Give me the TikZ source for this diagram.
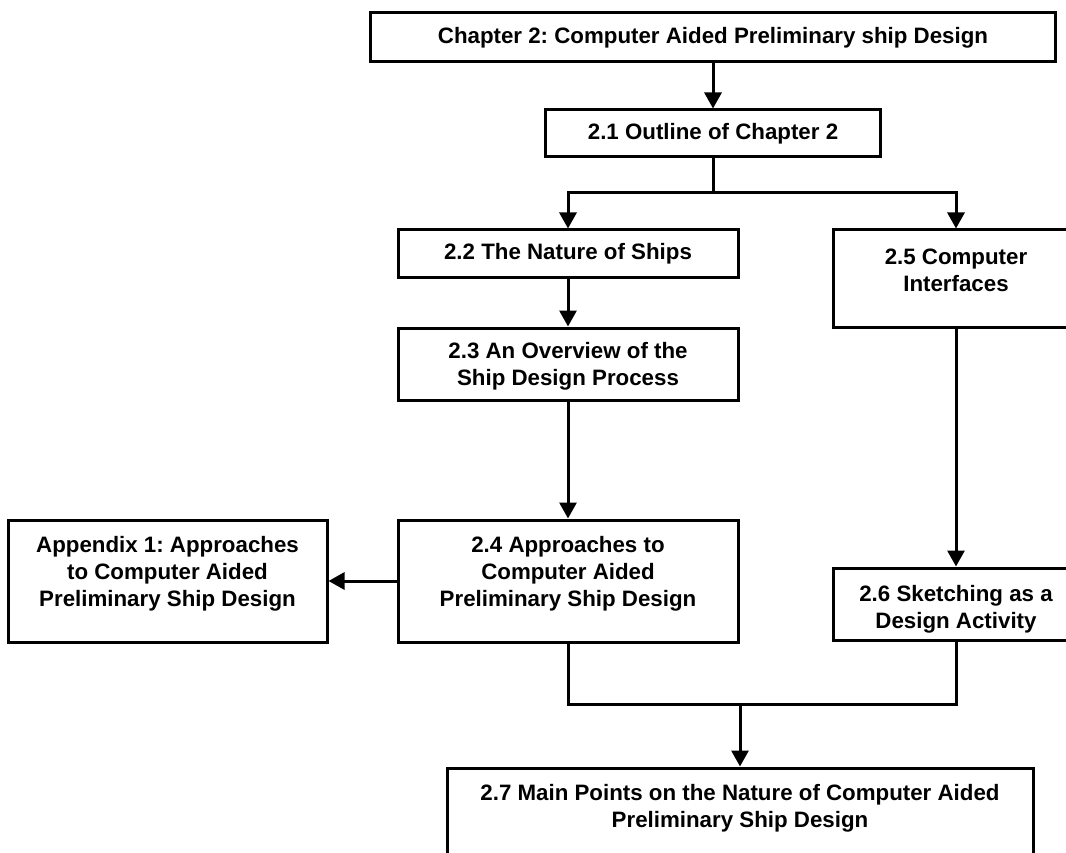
\documentclass[tikz,border=0pt]{standalone}
\usepackage{fontspec}
\setmainfont{Liberation Sans}
\usetikzlibrary{arrows.meta}
\frenchspacing
\begin{document}
\begin{tikzpicture}[x=1pt,y=-1pt, line width=3pt,
  chapbox/.style={draw=black, rectangle, inner sep=0pt, minimum width=#1},
  txt/.style={align=center, inner sep=0pt,
    font=\bfseries\fontsize{22.3}{27}\selectfont},
  flow/.style={-{Triangle[width=17pt,length=16pt]}},
  link/.style={line join=miter}
]
\useasboundingbox (0,0) rectangle (1066,853);
\clip (0,0) rectangle (1066,853);

% boxes
\node[chapbox=685pt, minimum height=49pt] (top) at (713,37.5) {};
\node[chapbox=335pt, minimum height=47pt] (s21) at (713,133.5) {};
\node[chapbox=340pt, minimum height=48pt] (s22) at (568,254) {};
\node[chapbox=246pt, minimum height=97pt] (s25) at (956,278.5) {};
\node[chapbox=340pt, minimum height=72pt] (s23) at (568,364) {};
\node[chapbox=340pt, minimum height=122pt] (s24) at (568,581) {};
\node[chapbox=319pt, minimum height=122pt] (app) at (167.5,581) {};
\node[chapbox=246pt, minimum height=72pt] (s26) at (956,604) {};
\node[chapbox=586pt, minimum height=112pt] (s27) at (740,824) {};

% box texts
\node[txt] (ttop) at (713,37.5) {Chapter 2: Computer Aided Preliminary ship Design};
\node[txt] (t21) at (713,133.5) {2.1 Outline of Chapter 2};
\node[txt] (t22) at (568,254) {2.2 The Nature of Ships};
\node[txt] (t25) at (956,270.5) {2.5 Computer\\Interfaces};
\node[txt] (t23) at (568,366) {2.3 An Overview of the\\Ship Design Process};
\node[txt] (t24) at (568,573.5) {2.4 Approaches to\\Computer Aided\\Preliminary Ship Design};
\node[txt] (tapp) at (167.5,573.5) {Appendix 1: Approaches\\to Computer Aided\\Preliminary Ship Design};
\node[txt] (t26) at (956,609) {2.6 Sketching as a\\Design Activity};
\node[txt] (t27) at (740,808.5) {2.7 Main Points on the Nature of Computer Aided\\Preliminary Ship Design};

% junction points
\coordinate (split) at (713,193);
\coordinate (merge) at (740,704);

% connectors
\draw[flow] (top.south) -- (s21.north);
\draw[link] (s21.south) -- (split);
\draw[flow, link] (split) -| (s22.north);
\draw[flow, link] (split) -| (s25.north);
\draw[flow] (s22.south) -- (s23.north);
\draw[flow] (s23.south) -- (s24.north);
\draw[flow] (s24.west) -- (app.east);
\draw[flow] (s25.south) -- (s26.north);
\draw[link] (s24.south) |- (merge);
\draw[link] (s26.south) |- (merge);
\draw[flow] (merge) -- (s27.north);
\end{tikzpicture}
\end{document}
